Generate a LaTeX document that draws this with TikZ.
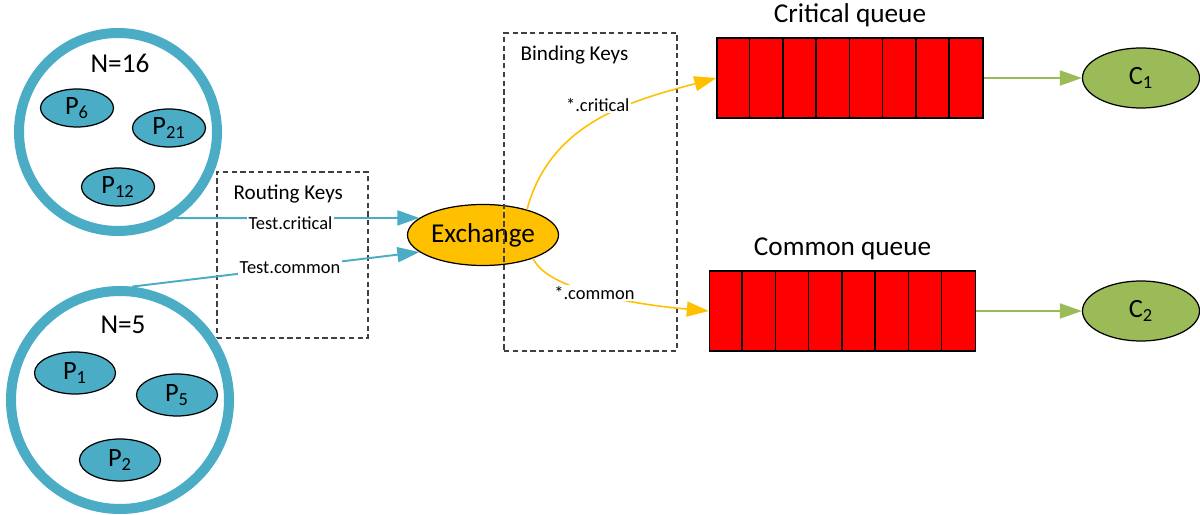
\documentclass[tikz,border=0pt]{standalone}
\usepackage{fontspec}
\setmainfont{Carlito}
\usetikzlibrary{arrows.meta,shapes.geometric,positioning}
\definecolor{pblue}{HTML}{4BACC6}
\definecolor{exyellow}{HTML}{FFC000}
\definecolor{cgreen}{HTML}{9BBB59}

\begin{document}
\begin{tikzpicture}[>={Triangle[length=0.44cm,width=0.3cm]},
    bigfont/.style={font=\fontsize{15.5}{18}\selectfont},
    pgroup/.style={circle,draw=pblue,line width=0.2cm,inner sep=0pt},
    prod/.style={ellipse,draw,fill=pblue,line width=0.7pt,inner sep=0pt,minimum width=1.46cm,minimum height=0.76cm,font=\fontsize{15}{18}\selectfont},
    keybox/.style={draw=black!75,dash pattern=on 3pt off 2pt,line width=0.6pt,minimum width=#1,inner sep=0pt},
    boxtitle/.style={font=\fontsize{12}{14}\selectfont,anchor=west},
    keylabel/.style={fill=white,inner sep=1pt,font=\fontsize{10.5}{12}\selectfont},
    queue/.style={rectangle,draw,fill=red,line width=0.8pt,minimum width=5.32cm,minimum height=1.6cm,inner sep=0pt},
    cons/.style={ellipse,draw,fill=cgreen,line width=0.7pt,inner sep=0pt,minimum width=2.34cm,minimum height=1.2cm,font=\fontsize{15}{18}\selectfont},
    blueline/.style={->,draw=pblue,line width=1.1pt},
    yellowline/.style={->,draw=exyellow,line width=0.9pt},
    greenline/.style={->,draw=cgreen,line width=1pt}]
    \useasboundingbox (0,0) rectangle (24,10.28);
    % producers
    \node[pgroup,minimum size=3.96cm] (grpA) at (2.36,7.64) {};
    \node[pgroup,minimum size=4.36cm] (grpB) at (2.4,2.28) {};
    \node[bigfont] (nA) at (2.4,9.02) {N=16};
    \node[bigfont] (nB) at (2.46,3.78) {N=5};
    \node[prod] (p6) at (1.54,8.12) {P\textsubscript{6}};
    \node[prod] (p21) at (3.38,7.72) {P\textsubscript{21}};
    \node[prod] (p12) at (2.36,6.54) {P\textsubscript{12}};
    \node[prod,minimum width=1.62cm,minimum height=0.84cm] (p1) at (1.5,2.82) {P\textsubscript{1}};
    \node[prod,minimum width=1.62cm,minimum height=0.84cm] (p5) at (3.54,2.38) {P\textsubscript{5}};
    \node[prod,minimum width=1.62cm,minimum height=0.84cm] (p2) at (2.4,1.08) {P\textsubscript{2}};
    % exchange
    \node[ellipse,draw,fill=exyellow,line width=0.7pt,inner sep=0pt,minimum width=3.02cm,minimum height=1.22cm,bigfont] (exch) at (9.66,5.58) {Exchange};
    \node[keybox=3.02cm,minimum height=3.32cm] (rkbox) at (5.85,5.18) {};
    \node[boxtitle] (rkTitle) at ([xshift=0.22cm,yshift=-0.46cm]rkbox.north west) {Routing Keys};
    \node[keybox=3.46cm,minimum height=6.36cm] (bkbox) at (11.81,6.44) {};
    \node[boxtitle] (bkTitle) at ([xshift=0.22cm,yshift=-0.46cm]bkbox.north west) {Binding Keys};
    \draw[blueline] (grpA.-56) -- node[keylabel,pos=0.47,yshift=-0.1cm]{Test.critical} (exch.165);
    \draw[blueline] (grpB.84) -- node[keylabel,pos=0.55]{Test.common} (exch.195);
    % queues
    \node[queue] (critq) at (17.0,8.72) {};
    \node[queue] (commq) at (16.85,4.06) {};
    \foreach \i in {1,...,7} {
        \draw[line width=0.8pt] ([xshift=\i*0.665cm]critq.north west) -- ([xshift=\i*0.665cm]critq.south west);
        \draw[line width=0.8pt] ([xshift=\i*0.665cm]commq.north west) -- ([xshift=\i*0.665cm]commq.south west);
    }
    \node[bigfont,above=0.08cm of critq] (critTitle) {Critical queue};
    \node[bigfont,above=0.08cm of commq] (commTitle) {Common queue};
    \draw[yellowline] (exch.30) to[out=75,in=195] node[keylabel,pos=0.5,yshift=0.3cm]{*.critical} (critq.west);
    \draw[yellowline] (exch.-25) to[out=-67,in=175,out looseness=0.45,in looseness=1.17] node[keylabel,pos=0.5]{*.common} (commq.west);
    % consumers
    \node[cons] (c1) at (22.82,8.72) {C\textsubscript{1}};
    \node[cons] (c2) at (22.82,4.06) {C\textsubscript{2}};
    \draw[greenline] (critq.east) -- (c1.west);
    \draw[greenline] (commq.east) -- (c2.west);
\end{tikzpicture}
\end{document}
